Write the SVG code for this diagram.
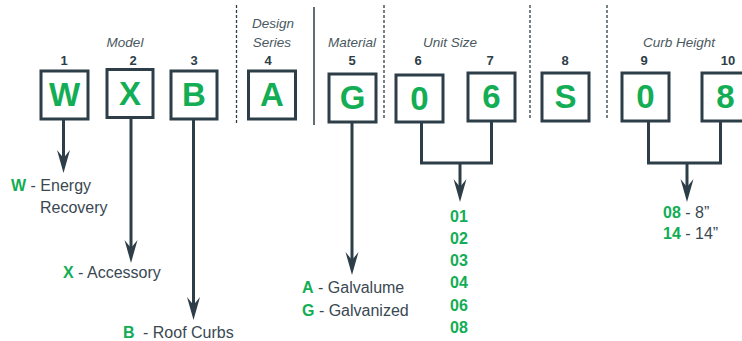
<svg xmlns="http://www.w3.org/2000/svg" width="742" height="341" viewBox="0 0 742 341">
<style>
.box rect{fill:#fff;stroke:#2d3e48;stroke-width:3}
.big{font-family:"Liberation Sans",Arial,sans-serif;font-weight:bold;font-size:33px;fill:#12ad54;text-anchor:middle}
.num{font-family:"Liberation Sans",Arial,sans-serif;font-weight:bold;font-size:13px;fill:#2d3e48;text-anchor:middle}
.cat{font-family:"Liberation Sans",Arial,sans-serif;font-style:italic;font-size:13.5px;fill:#4a5860;text-anchor:middle}
.desc{font-family:"Liberation Sans",Arial,sans-serif;font-size:16px;fill:#3a4852}
.g{font-weight:bold;fill:#12ad54}
.code{font-family:"Liberation Sans",Arial,sans-serif;font-weight:bold;font-size:16px;fill:#12ad54}
.conn{fill:none;stroke:#2d3e48;stroke-width:3}
.dash{stroke:#2d3e48;stroke-width:1.3;stroke-dasharray:3,2}
.solid{stroke:#2d3e48;stroke-width:1.5}
</style>
<defs>
<marker id="ah" markerUnits="userSpaceOnUse" markerWidth="26" markerHeight="16" viewBox="-24 -8 26 16" refX="-10" refY="0" orient="auto">
<path d="M0,0 L-23,-6.5 L-15,0 L-23,6.5 Z" fill="#2d3e48"/>
</marker>
</defs>
<rect width="742" height="341" fill="#fff"/>
<g id="dividers">
<line class="dash" x1="236.5" y1="5" x2="236.5" y2="123"/>
<line class="solid" x1="314" y1="7" x2="314" y2="125"/>
<line class="dash" x1="384" y1="5" x2="384" y2="118"/>
<line class="dash" x1="530" y1="5" x2="530" y2="120"/>
<line class="dash" x1="607" y1="5" x2="607" y2="120"/>
</g>
<g id="categories">
<text class="cat" x="125" y="47">Model</text>
<text class="cat" x="273" y="28">Design</text>
<text class="cat" x="272" y="47">Series</text>
<text class="cat" x="352" y="47">Material</text>
<text class="cat" x="450" y="47">Unit Size</text>
<text class="cat" x="679" y="47">Curb Height</text>
</g>
<g id="connectors">
<path class="conn" d="M63.5,119 V163" marker-end="url(#ah)"/>
<path class="conn" d="M131,118 V253" marker-end="url(#ah)"/>
<path class="conn" d="M193.5,119 V310" marker-end="url(#ah)"/>
<path class="conn" d="M352,122 V265" marker-end="url(#ah)"/>
<path class="conn" d="M421.5,122 V163 H491.5 V121"/>
<path class="conn" d="M460,163 V192" marker-end="url(#ah)"/>
<path class="conn" d="M648.5,121 V163 H720.5 V121"/>
<path class="conn" d="M687,163 V192" marker-end="url(#ah)"/>
</g>
<g id="n1" class="box"><rect x="41" y="71" width="47" height="48"/><text class="num" x="64" y="65">1</text><text class="big" x="64.5" y="106">W</text></g>
<g id="n2" class="box"><rect x="107" y="69.5" width="46" height="48"/><text class="num" x="133" y="65">2</text><text class="big" x="130" y="105">X</text></g>
<g id="n3" class="box"><rect x="171" y="71" width="46" height="48"/><text class="num" x="194" y="65">3</text><text class="big" x="194" y="106">B</text></g>
<g id="n4" class="box"><rect x="248.5" y="71" width="47" height="48"/><text class="num" x="268" y="65">4</text><text class="big" x="272" y="106">A</text></g>
<g id="n5" class="box"><rect x="329" y="74" width="47" height="48"/><text class="num" x="352" y="65">5</text><text class="big" x="352.5" y="109">G</text></g>
<g id="n6" class="box"><rect x="396" y="75" width="47" height="47"/><text class="num" x="418" y="65">6</text><text class="big" x="419.5" y="110">0</text></g>
<g id="n7" class="box"><rect x="468" y="73" width="47" height="48"/><text class="num" x="490" y="65">7</text><text class="big" x="491.5" y="108">6</text></g>
<g id="n8" class="box"><rect x="542" y="73" width="47" height="48"/><text class="num" x="565" y="65">8</text><text class="big" x="565.5" y="108">S</text></g>
<g id="n9" class="box"><rect x="622" y="73" width="47" height="48"/><text class="num" x="644" y="65">9</text><text class="big" x="645.5" y="108">0</text></g>
<g id="n10" class="box"><rect x="702" y="73" width="47" height="48"/><text class="num" x="728" y="65">10</text><text class="big" x="725.5" y="108">8</text></g>
<g id="labels">
<text class="desc" x="11" y="191"><tspan class="g">W</tspan> - Energy</text>
<text class="desc" x="40" y="213">Recovery</text>
<text class="desc" x="63" y="278"><tspan class="g">X</tspan> - Accessory</text>
<text class="desc" x="123" y="338"><tspan class="g">B</tspan><tspan dx="4"> - Roof Curbs</tspan></text>
<text class="desc" x="302" y="293"><tspan class="g">A</tspan> - Galvalume</text>
<text class="desc" x="302" y="316"><tspan class="g">G</tspan> - Galvanized</text>
<text class="code" x="450" y="222">01</text>
<text class="code" x="450" y="244">02</text>
<text class="code" x="450" y="266">03</text>
<text class="code" x="450" y="288">04</text>
<text class="code" x="450" y="311">06</text>
<text class="code" x="450" y="333">08</text>
<text class="desc" x="663" y="218"><tspan class="g">08</tspan> - 8”</text>
<text class="desc" x="663" y="239"><tspan class="g">14</tspan> - 14”</text>
</g>
</svg>
